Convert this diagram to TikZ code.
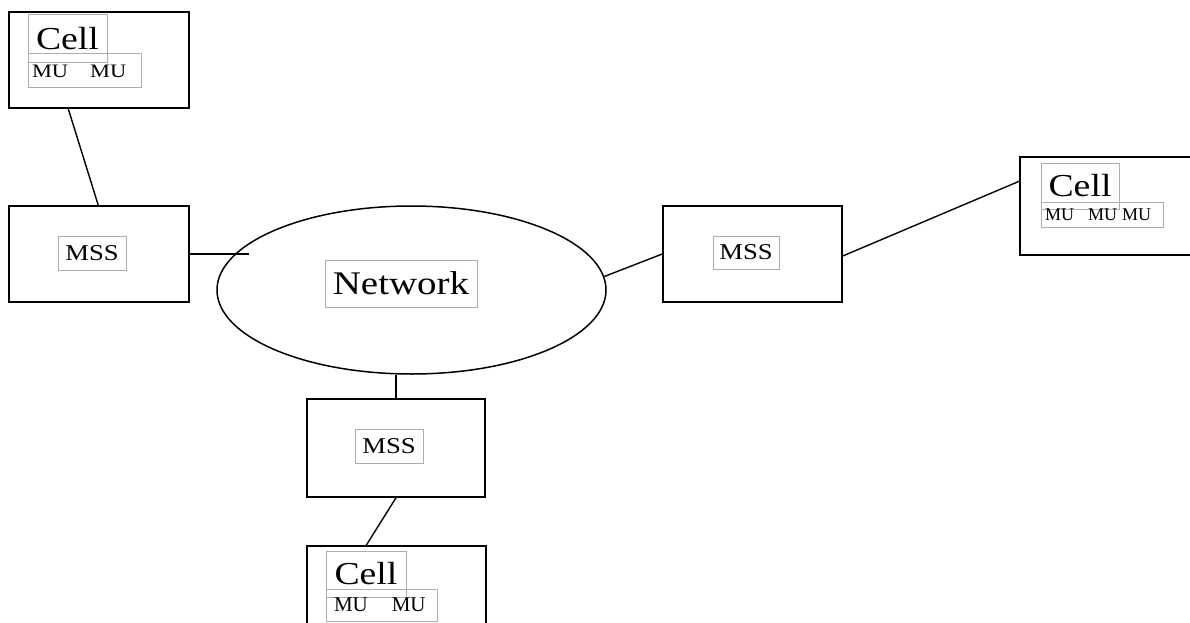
\documentclass[tikz,border=0pt]{standalone}
\usepackage{fontspec}
\setmainfont{Liberation Serif}
\newfontfamily\widefont{Liberation Serif}[FakeStretch=1.18]
\usetikzlibrary{shapes.geometric,calc}
\begin{document}
\begin{tikzpicture}[x=1pt,y=-1pt,
  unit/.style={draw, line width=1.5pt, inner sep=0pt},
  tag/.style={draw=black!32, line width=1pt, inner sep=0pt},
  link/.style={line width=1.4pt},
  big/.style={font=\widefont\fontsize{32}{34}\selectfont},
  mid/.style={font=\widefont\fontsize{22.6}{24}\selectfont}]
\clip (0,0) rectangle (1190,623);
\fill[white] (0,0) rectangle (1190,623);

% network cloud
\node[ellipse, draw, line width=1.5pt, minimum width=389pt, minimum height=168pt, inner sep=0pt] (net) at (411.5,290) {};
\node[tag, minimum width=152pt, minimum height=47pt, font=\widefont\fontsize{33}{35}\selectfont] (netname) at (401,283.5) {Network};

% mobile support stations
\node[unit, minimum width=180pt, minimum height=96pt] (mssL) at (99,254) {};
\node[tag, mid, minimum width=68pt, minimum height=34pt] (mssLname) at (92,253) {MSS};

\node[unit, minimum width=179pt, minimum height=96pt] (mssR) at (752.5,254) {};
\node[tag, mid, minimum width=66pt, minimum height=33pt] (mssRname) at (746,252.5) {MSS};

\node[unit, minimum width=178pt, minimum height=98pt] (mssB) at (396,448) {};
\node[tag, mid, minimum width=68pt, minimum height=34pt] (mssBname) at (389,446) {MSS};

% cells with their mobile units
\node[unit, minimum width=180pt, minimum height=96pt] (cellT) at (99,60) {};
\node[tag, big, minimum width=79pt, minimum height=48pt] (cellTname) at (67.5,39) {Cell};
\node[tag, minimum width=113pt, minimum height=34pt, text width=105pt, inner xsep=4pt, align=left,
      font=\widefont\fontsize{19}{20}\selectfont] (cellTmu) at (84.5,71) {MU\hspace{22pt}MU};

\node[unit, minimum width=190pt, minimum height=98pt] (cellR) at (1115,206) {};
\node[tag, big, minimum width=78pt, minimum height=46pt] (cellRname) at (1080,186) {Cell};
\node[tag, minimum width=122pt, minimum height=25pt, text width=114pt, inner xsep=4pt, align=left,
      font=\fontsize{18}{19}\selectfont] (cellRmu) at (1102,214.5) {MU\hspace{14pt}MU\hspace{5pt}MU};

\node[unit, minimum width=179pt, minimum height=110pt] (cellB) at (396.5,601) {};
\node[tag, big, minimum width=80pt, minimum height=46pt] (cellBname) at (366,574) {Cell};
\node[tag, minimum width=111pt, minimum height=32pt, text width=95pt, inner xsep=8pt, align=left,
      font=\fontsize{21}{22}\selectfont] (cellBmu) at (381.5,605) {MU\hspace{24pt}MU};

% links
\draw[link] ([xshift=60pt]cellT.south west) -- ([xshift=90pt]mssL.north west);
\coordinate (netin) at ($(mssL.east)+(59pt,0)$);
\draw[link] (mssL.east) -- (netin);
\draw[link] (net.4) -- (mssR.west);
\draw[link] ([yshift=-2pt]mssR.east) -- ([yshift=-25pt]cellR.north west);
\draw[link] (net.south -| mssB.north) -- (mssB.north);
\draw[link] (mssB.south) -- ([xshift=60pt]cellB.north west);
\end{tikzpicture}
\end{document}
